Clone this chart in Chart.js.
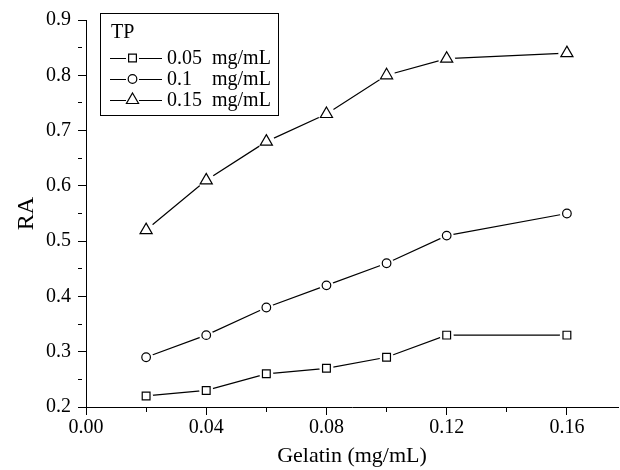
<!DOCTYPE html>
<html>
<head>
<meta charset="utf-8">
<script src="https://cdn.jsdelivr.net/npm/chart.js@4"></script>
<style>
  body { margin: 0; background: #fff; }
  #wrap { width: 620px; height: 470px; position: relative; }
</style>
</head>
<body>
<div id="wrap"><canvas id="raChart"></canvas></div>
<script>
// Gelatin concentration (mg/mL) on the x axis
const gelatin = [0.02, 0.04, 0.06, 0.08, 0.10, 0.12, 0.16];
// RA for each TP concentration
const ra005 = [0.22, 0.23, 0.26, 0.27, 0.29, 0.33, 0.33];
const ra01 = [0.29, 0.33, 0.38, 0.42, 0.46, 0.51, 0.55];
const ra015 = [0.52, 0.61, 0.68, 0.73, 0.80, 0.83, 0.84];
const tpLevels = ['0.05', '0.1', '0.15'];
const tpUnit = 'mg/mL';

const serif = '"Liberation Serif", "Times New Roman", serif';

// each series = line + white halo (gap round the marker) + open marker
function series(values, label, style, radius, halo) {
  const pts = gelatin.map((g, i) => ({ x: g, y: values[i] }));
  return [
    { label: label, data: pts, borderColor: '#000', borderWidth: 1.2, pointRadius: 0, order: 3 },
    { label: label + ' halo', data: pts, showLine: false, pointStyle: 'circle',
      pointRadius: halo, pointBackgroundColor: '#fff', pointBorderWidth: 0, order: 2 },
    { label: label, data: pts, showLine: false, pointStyle: style, pointRadius: radius,
      pointBackgroundColor: '#fff', pointBorderColor: '#000', pointBorderWidth: 1.2, order: 1, marker: true }
  ];
}

const datasets = [
  ...series(ra005, tpLevels[0], 'rect', 5.5, 7),
  ...series(ra01, tpLevels[1], 'circle', 4.3, 7),
  ...series(ra015, tpLevels[2], 'triangle', 7, 8.5)
];

// Origin-style boxed legend: "—□— 0.05 mg/mL"
const boxLegend = {
  id: 'boxLegend',
  afterDraw(chart) {
    const ctx = chart.ctx;
    ctx.save();
    ctx.strokeStyle = '#000';
    ctx.lineWidth = 1;
    ctx.strokeRect(100.5, 13.5, 178, 102);
    ctx.fillStyle = '#000';
    ctx.font = '20px ' + serif;
    ctx.textBaseline = 'alphabetic';
    ctx.fillText('TP', 111, 38);
    const markers = chart.data.datasets.filter(d => d.marker);
    markers.forEach((d, i) => {
      const y = 58 + i * 21;
      ctx.lineWidth = 1.2;
      ctx.beginPath();
      ctx.moveTo(110, y + 0.5); ctx.lineTo(126, y + 0.5);
      ctx.moveTo(139, y + 0.5); ctx.lineTo(162, y + 0.5);
      ctx.stroke();
      ctx.fillStyle = '#fff';
      Chart.helpers.drawPoint(ctx, { pointStyle: d.pointStyle, radius: d.pointRadius, borderWidth: 1.2, rotation: 0 }, 132.5, y);
      ctx.fillStyle = '#000';
      ctx.fillText(d.label, 167, y + 6);
      ctx.fillText(tpUnit, 212, y + 6);
    });
    ctx.restore();
  }
};

const isMinor = (v, step) => Math.abs(Math.round(v * 100) % step) !== 0;

new Chart(document.getElementById('raChart'), {
  type: 'line',
  data: { datasets: datasets },
  options: {
    responsive: true,
    maintainAspectRatio: false,
    animation: false,
    events: [],
    layout: { autoPadding: false, padding: { top: 20, right: 2, left: 0, bottom: 0 } },
    plugins: { legend: { display: false }, tooltip: { enabled: false } },
    scales: {
      x: {
        type: 'linear',
        min: 0,
        max: 0.177,
        afterFit: s => { s.height = 63; },
        border: { display: true, color: '#000', width: 1 },
        grid: {
          drawOnChartArea: false, tickLength: 8, tickColor: '#000', tickWidth: 1,
          tickBorderDash: c => (c.tick && isMinor(c.tick.value, 4)) ? [4, 20] : []
        },
        ticks: {
          stepSize: 0.02, includeBounds: false, color: '#000', padding: 1, maxRotation: 0,
          autoSkip: false,
          font: { family: serif, size: 20 },
          callback: v => isMinor(v, 4) ? '' : v.toFixed(2)
        },
        title: {
          display: true, text: 'Gelatin (mg/mL)', color: '#000',
          font: { family: serif, size: 22 }, padding: { top: 0, bottom: 1 }
        }
      },
      y: {
        min: 0.2,
        max: 0.9,
        afterFit: s => { s.width = 86; },
        border: { display: true, color: '#000', width: 1 },
        grid: {
          drawOnChartArea: false, tickLength: 8, tickColor: '#000', tickWidth: 1,
          tickBorderDash: c => (c.tick && isMinor(c.tick.value, 10)) ? [4, 20] : []
        },
        ticks: {
          stepSize: 0.05, color: '#000', padding: 7, autoSkip: false,
          font: { family: serif, size: 20 },
          callback: v => isMinor(v, 10) ? '' : v.toFixed(1)
        },
        title: {
          display: true, text: 'RA', color: '#000',
          font: { family: serif, size: 24 }, padding: { top: 12, bottom: 0 }
        }
      }
    }
  },
  plugins: [boxLegend]
});
</script>
</body>
</html>
